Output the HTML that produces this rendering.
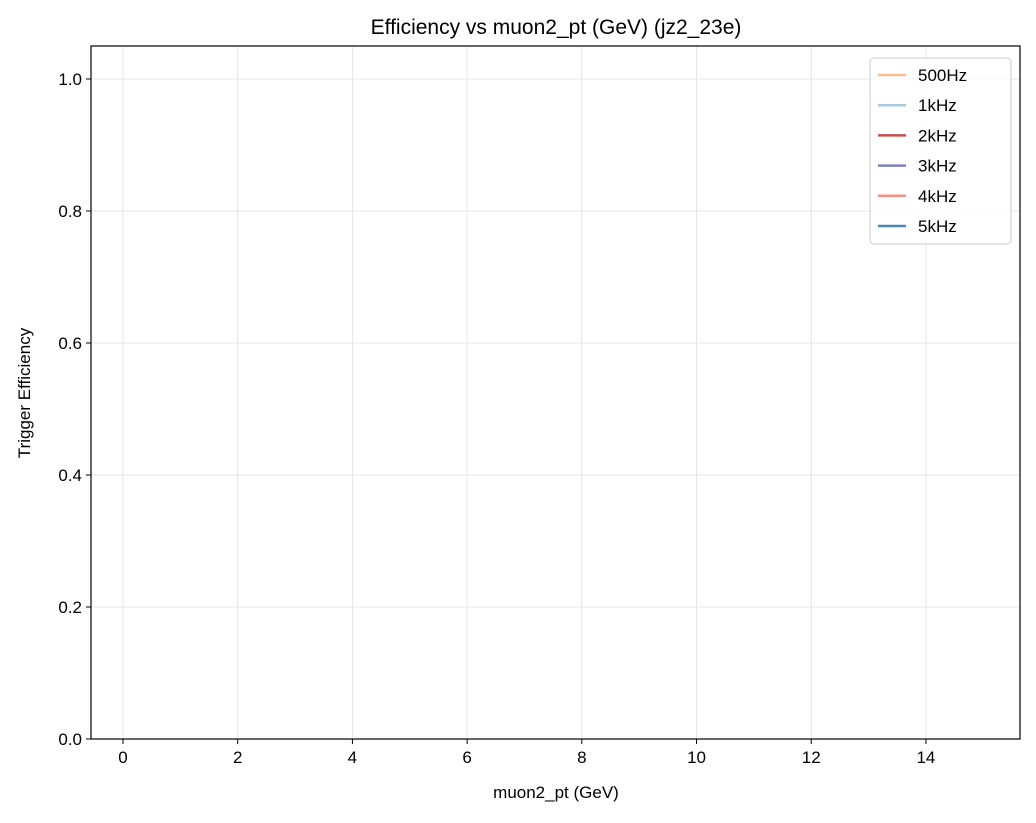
<!DOCTYPE html>
<html><head><meta charset="utf-8"><style>
body{margin:0;background:#fff;}
svg text{font-family:"Liberation Sans","DejaVu Sans",sans-serif;}
</style></head><body>
<svg width="1036" height="818" xmlns="http://www.w3.org/2000/svg">
<rect width="1036" height="818" fill="#fff"/>
<g id="grid"></g>
<g id="axes"></g>
<text x="556" y="34" font-size="21" text-anchor="middle">Efficiency vs muon2_pt (GeV) (jz2_23e)</text>
<text x="556" y="798" font-size="17" text-anchor="middle">muon2_pt (GeV)</text>
<text x="30" y="393" font-size="17" text-anchor="middle" transform="rotate(-90 30 393)">Trigger Efficiency</text>
<g id="legend"></g>
</svg>
<script>
const xTicks=[0,2,4,6,8,10,12,14];
const yTicks=[0.0,0.2,0.4,0.6,0.8,1.0];
const seriesNames=["500Hz","1kHz","2kHz","3kHz","4kHz","5kHz"];
const seriesColors=["#fdbf8f","#a6cee3","#c8504a","#7e82c6","#fb9080","#4f84b8"];
const seriesX=[[],[],[],[],[],[]];
const seriesY=[[],[],[],[],[],[]];
const L=91,R=1020,T=46,B=739,xmin=-0.558,xmax=15.64,ymin=0,ymax=1.05;
const sx=v=>L+(v-xmin)/(xmax-xmin)*(R-L);
const sy=v=>B-(v-ymin)/(ymax-ymin)*(B-T);
const NS="http://www.w3.org/2000/svg";
function mk(t,a,p){const e=document.createElementNS(NS,t);for(const k in a)e.setAttribute(k,a[k]);p.appendChild(e);return e;}
const g=document.getElementById('grid'),ax=document.getElementById('axes'),svg=document.querySelector('svg');
xTicks.forEach(v=>{const x=sx(v);
const l=mk('line',{x1:x,x2:x,y1:T,y2:B,stroke:'#e6e6e6','stroke-width':1},g);


mk('line',{x1:x,x2:x,y1:B,y2:B+5,stroke:'#000','stroke-width':1},ax);
const t=mk('text',{x:x,y:B+24,'font-size':17,'text-anchor':'middle'},ax);t.textContent=v;

});
yTicks.forEach(v=>{const y=sy(v);
const l=mk('line',{x1:L,x2:R,y1:y,y2:y,stroke:'#e6e6e6','stroke-width':1},g);


mk('line',{x1:L-5,x2:L,y1:y,y2:y,stroke:'#000','stroke-width':1},ax);
const t=mk('text',{x:L-9,y:y+6,'font-size':17,'text-anchor':'end'},ax);t.textContent=v.toFixed(1);

});
const fr=mk('rect',{x:L,y:T,width:R-L,height:B-T,fill:'none',stroke:'#000','stroke-width':1.2},ax);


seriesNames.forEach((n,i)=>{if(!seriesX[i].length)return;
const p=mk('polyline',{points:seriesX[i].map((x,j)=>sx(x)+','+sy(seriesY[i][j])).join(' '),fill:'none',stroke:seriesColors[i],'stroke-width':2},svg);

});
const lg=document.getElementById('legend');
const bx=mk('rect',{x:870,y:58,width:141,height:186,rx:4,fill:'#fff','fill-opacity':0.8,stroke:'#ccc'},lg);


seriesNames.forEach((n,i)=>{const y=75+i*30.2;
const ln=mk('line',{x1:878,x2:906,y1:y,y2:y,stroke:seriesColors[i],'stroke-width':2.5},lg);


const t=mk('text',{x:918,y:y+6,'font-size':17},lg);t.textContent=n;

});
</script>
</body></html>
